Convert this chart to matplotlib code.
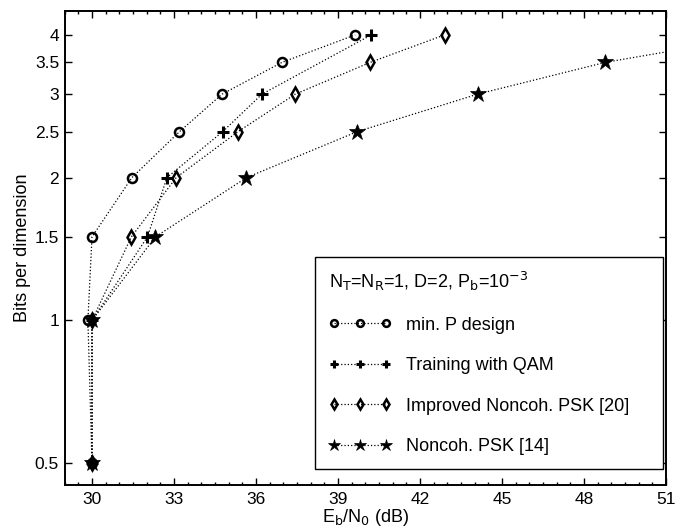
import matplotlib.pyplot as plt
from matplotlib.ticker import FixedLocator, MultipleLocator, NullLocator

plt.rcParams['font.family'] = ['Liberation Sans', 'DejaVu Sans']

bits = [0.5, 1, 1.5, 2, 2.5, 3, 3.5, 4]
bits_qam = [0.5, 1, 1.5, 2, 2.5, 3, 4]

snr_minp = [30.0, 29.85, 30.0, 31.46, 33.2, 34.76, 36.95, 39.63]
snr_qam = [30.0, 30.0, 32.03, 32.74, 34.78, 36.22, 40.22]
snr_impr = [30.0, 30.0, 31.44, 33.08, 35.34, 37.44, 40.18, 42.9]
snr_psk = [30.0, 30.0, 32.32, 35.65, 39.7, 44.11, 48.78, 54.6]

x_ticks = [30, 33, 36, 39, 42, 45, 48, 51]
y_ticks = [0.5, 1, 1.5, 2, 2.5, 3, 3.5, 4]
y_ticklabels = ['0.5', '1', '1.5', '2', '2.5', '3', '3.5', '4']

fig = plt.figure(figsize=(6.88, 5.31), dpi=100)
ax = fig.add_axes([0.094, 0.087, 0.874, 0.893])

line_kw = dict(color='black', linestyle=':', linewidth=0.9)

ax.plot(snr_minp, bits, marker='o', markersize=6.5, markerfacecolor='none',
        markeredgewidth=1.8, label='min. P design', **line_kw)
ax.plot(snr_qam, bits_qam, marker='+', markersize=8, markeredgewidth=2.2,
        label='Training with QAM', **line_kw)
ax.plot(snr_impr, bits, marker='d', markersize=7, markerfacecolor='none',
        markeredgewidth=1.8, label='Improved Noncoh. PSK [20]', **line_kw)
ax.plot(snr_psk, bits, marker='*', markersize=12, markerfacecolor='black',
        markeredgewidth=0.5, label='Noncoh. PSK [14]', **line_kw)

ax.set_yscale('log')
ax.set_xlim(29, 51)
ax.set_ylim(0.45, 4.5)

ax.xaxis.set_major_locator(FixedLocator(x_ticks))
ax.xaxis.set_minor_locator(MultipleLocator(0.5))
ax.yaxis.set_major_locator(FixedLocator(y_ticks))
ax.yaxis.set_minor_locator(NullLocator())
ax.set_yticklabels(y_ticklabels)

ax.tick_params(which='both', direction='in', top=True, right=True,
               labelsize=12.5, width=1.0)
ax.tick_params(which='major', length=5)
ax.tick_params(axis='x', which='major', pad=5)
ax.tick_params(axis='y', which='major', pad=4)
ax.tick_params(which='minor', length=2.5)
for s in ax.spines.values():
    s.set_linewidth(1.4)

ax.set_xlabel(r'E$_\mathrm{b}$/N$_0$ (dB)', fontsize=13, labelpad=0)
ax.set_ylabel('Bits per dimension', fontsize=13, labelpad=3)

leg = ax.legend(loc='lower left', bbox_to_anchor=(0.4165, 0.034, 0.579, 0.3),
                mode='expand', borderaxespad=0, numpoints=3, fontsize=13,
                title=r'N$_\mathrm{T}$=N$_\mathrm{R}$=1, D=2, P$_\mathrm{b}$=10$^{-3}$',
                title_fontsize=13, alignment='left', fancybox=False,
                edgecolor='black', framealpha=1, labelspacing=1.3,
                handlelength=3.5, handletextpad=0.8, borderpad=0.75,
                markerscale=0.75)
leg.get_frame().set_linewidth(1.0)

fig.savefig('out.png', dpi=100)
